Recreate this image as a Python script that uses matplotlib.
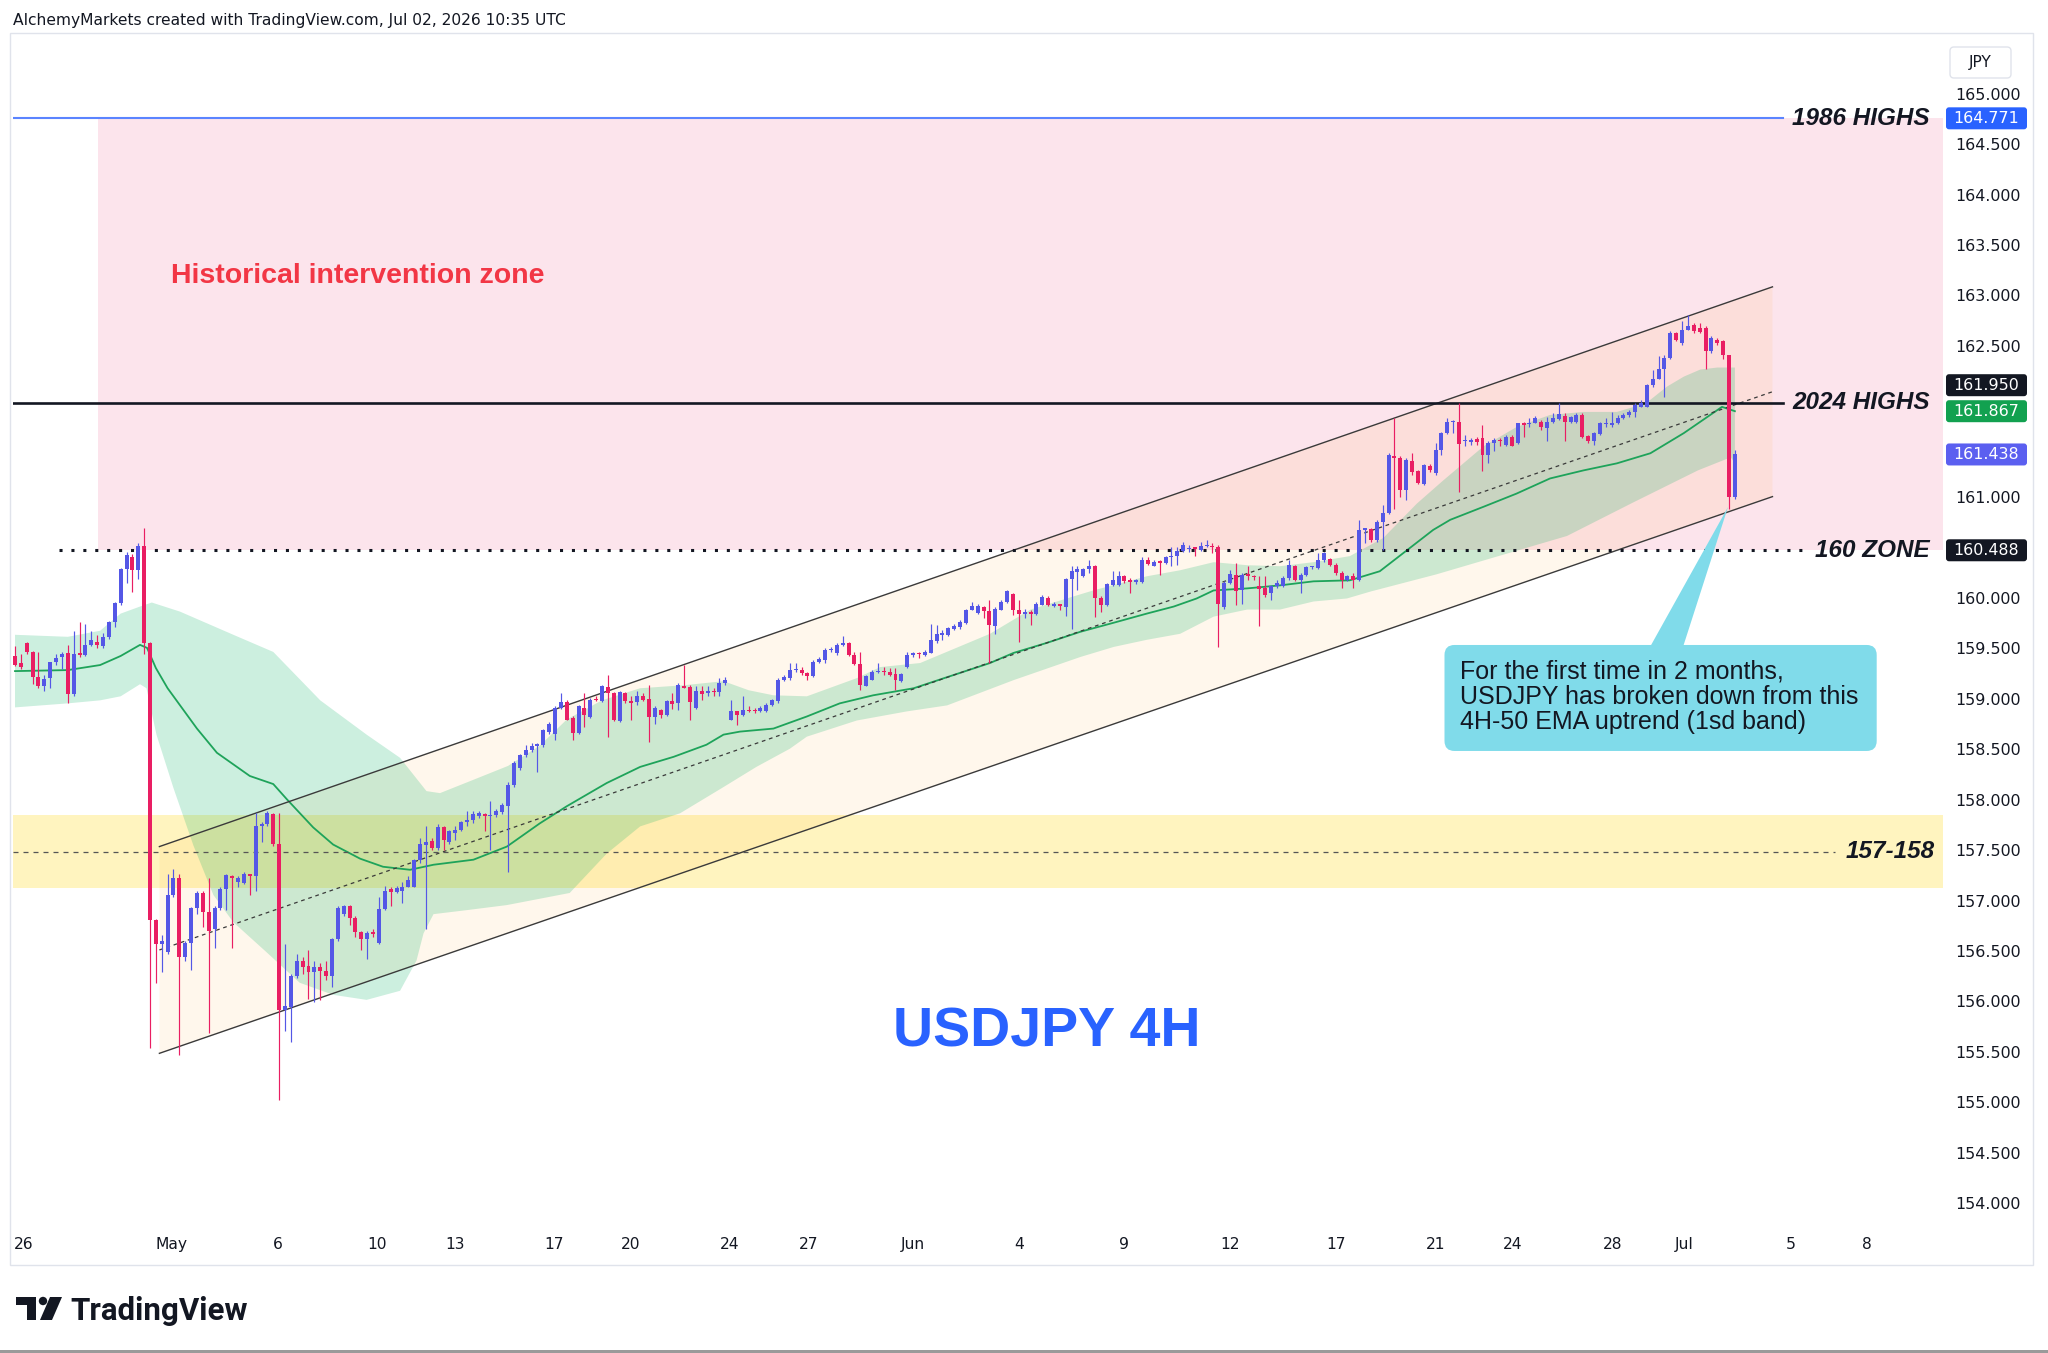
import matplotlib
matplotlib.use("Agg")
import matplotlib.pyplot as plt
import numpy as np
from matplotlib.patches import Rectangle, FancyBboxPatch, Polygon, Circle
from matplotlib.transforms import IdentityTransform

# ------------------------------------------------------------------ data
opens = [
    159.44, 159.37, 159.57, 159.48, 159.23, 159.14, 159.22, 159.38, 159.43, 159.47,
    159.06, 159.47, 159.45, 159.55, 159.58, 159.54, 159.63, 159.78, 159.97, 160.30,
    160.42, 160.29, 160.53, 159.57, 156.82, 156.58, 156.50, 157.07, 157.24, 156.46,
    156.59, 156.94, 157.09, 156.90, 156.73, 156.94, 157.13, 157.26, 157.20, 157.19,
    157.28, 157.26, 157.75, 157.77, 157.87, 157.58, 155.93, 155.96, 156.27, 156.42,
    156.37, 156.31, 156.36, 156.32, 156.27, 156.63, 156.88, 156.96, 156.84, 156.70,
    156.63, 156.70, 156.59, 156.93, 157.13, 157.10, 157.11, 157.15, 157.15, 157.42,
    157.57, 157.61, 157.54, 157.74, 157.60, 157.68, 157.71, 157.79, 157.81, 157.85,
    157.87, 157.85, 157.86, 157.89, 157.95, 158.16, 158.33, 158.46, 158.51, 158.55,
    158.56, 158.69, 158.67, 158.92, 158.98, 158.82, 158.68, 158.92, 158.83, 159.01,
    158.99, 159.13, 159.07, 158.80, 159.07, 158.99, 158.98, 159.04, 159.01, 158.83,
    158.90, 158.85, 158.99, 158.97, 159.14, 159.13, 158.92, 159.09, 159.07, 159.09,
    159.08, 159.17, 158.81, 158.89, 158.85, 158.90, 158.90, 158.89, 158.89, 158.95,
    158.99, 159.20, 159.22, 159.30, 159.30, 159.27, 159.24, 159.38, 159.40, 159.50,
    159.47, 159.55, 159.57, 159.45, 159.36, 159.14, 159.20, 159.28, 159.29, 159.28,
    159.26, 159.19, 159.33, 159.45, 159.47, 159.45, 159.47, 159.59, 159.65, 159.65,
    159.71, 159.73, 159.77, 159.90, 159.87, 159.93, 159.89, 159.74, 159.90, 159.98,
    160.05, 159.90, 159.86, 159.87, 159.86, 159.95, 160.01, 159.94, 159.96, 159.93,
    160.20, 160.27, 160.23, 160.30, 160.33, 160.01, 159.95, 160.14, 160.14, 160.23,
    160.19, 160.17, 160.17, 160.39, 160.33, 160.38, 160.36, 160.42, 160.43, 160.48,
    160.50, 160.52, 160.49, 160.53, 160.53, 160.52, 159.93, 160.16, 160.24, 160.09,
    160.25, 160.23, 160.13, 160.11, 160.06, 160.13, 160.13, 160.21, 160.33, 160.19,
    160.24, 160.32, 160.31, 160.39, 160.40, 160.34, 160.26, 160.19, 160.23, 160.19,
    160.69, 160.70, 160.59, 160.77, 160.86, 161.42, 161.40, 161.09, 161.37, 161.27,
    161.15, 161.32, 161.25, 161.48, 161.65, 161.76, 161.76, 161.57, 161.56, 161.59,
    161.60, 161.43, 161.55, 161.58, 161.53, 161.61, 161.55, 161.75, 161.74, 161.75,
    161.76, 161.70, 161.76, 161.79, 161.82, 161.76, 161.76, 161.83, 161.62, 161.57,
    161.64, 161.74, 161.73, 161.75, 161.80, 161.83, 161.86, 161.91, 161.91, 162.13,
    162.19, 162.29, 162.39, 162.64, 162.54, 162.67, 162.72, 162.69, 162.69, 162.46,
    162.57, 162.56, 162.42, 161.02,
]
highs = [
    159.54, 159.46, 159.58, 159.49, 159.48, 159.25, 159.38, 159.46, 159.48, 159.55,
    159.69, 159.78, 159.76, 159.69, 159.65, 159.67, 159.79, 159.98, 160.31, 160.47,
    160.45, 160.56, 160.71, 159.58, 156.83, 156.67, 157.28, 157.33, 157.28, 156.61,
    156.95, 157.11, 157.11, 157.24, 156.96, 157.15, 157.28, 157.27, 157.26, 157.30,
    157.28, 157.88, 157.79, 157.90, 157.88, 157.88, 156.58, 156.29, 156.48, 156.46,
    156.52, 156.42, 156.40, 156.42, 156.64, 156.96, 156.97, 156.97, 156.86, 156.71,
    156.71, 156.73, 157.05, 157.16, 157.15, 157.16, 157.20, 157.26, 157.43, 157.64,
    157.75, 157.64, 157.77, 157.75, 157.71, 157.75, 157.80, 157.90, 157.90, 157.90,
    157.88, 158.00, 157.92, 157.98, 158.19, 158.40, 158.47, 158.56, 158.58, 158.58,
    158.72, 158.79, 158.94, 159.07, 159.00, 158.84, 158.95, 159.07, 159.02, 159.04,
    159.15, 159.25, 159.08, 159.09, 159.08, 159.04, 159.09, 159.07, 159.15, 158.94,
    158.91, 159.00, 159.07, 159.17, 159.35, 159.15, 159.14, 159.14, 159.14, 159.12,
    159.22, 159.23, 159.00, 158.89, 159.04, 158.94, 158.92, 158.94, 158.97, 159.01,
    159.22, 159.25, 159.37, 159.37, 159.33, 159.28, 159.40, 159.43, 159.52, 159.53,
    159.57, 159.64, 159.58, 159.48, 159.48, 159.25, 159.30, 159.37, 159.33, 159.32,
    159.32, 159.27, 159.48, 159.48, 159.48, 159.50, 159.76, 159.75, 159.70, 159.73,
    159.76, 159.80, 159.91, 159.98, 159.96, 159.94, 159.99, 159.93, 159.99, 160.09,
    160.06, 159.99, 159.91, 159.90, 159.98, 160.04, 160.03, 159.98, 159.96, 160.21,
    160.33, 160.33, 160.31, 160.39, 160.34, 160.03, 160.16, 160.28, 160.28, 160.24,
    160.21, 160.20, 160.42, 160.42, 160.39, 160.39, 160.43, 160.52, 160.52, 160.57,
    160.54, 160.52, 160.57, 160.59, 160.56, 160.54, 160.18, 160.29, 160.36, 160.26,
    160.33, 160.24, 160.23, 160.23, 160.14, 160.19, 160.23, 160.39, 160.34, 160.26,
    160.33, 160.33, 160.46, 160.47, 160.41, 160.36, 160.28, 160.24, 160.26, 160.79,
    160.71, 160.71, 160.79, 160.94, 161.45, 161.80, 161.42, 161.40, 161.45, 161.28,
    161.34, 161.34, 161.55, 161.66, 161.80, 161.78, 161.95, 161.63, 161.60, 161.61,
    161.73, 161.57, 161.60, 161.60, 161.63, 161.63, 161.75, 161.76, 161.80, 161.82,
    161.78, 161.81, 161.85, 161.95, 161.85, 161.82, 161.85, 161.85, 161.63, 161.66,
    161.76, 161.80, 161.86, 161.83, 161.85, 161.88, 161.95, 161.98, 162.14, 162.28,
    162.41, 162.42, 162.66, 162.65, 162.76, 162.82, 162.74, 162.74, 162.71, 162.61,
    162.59, 162.57, 162.42, 161.48,
]
lows = [
    159.34, 159.31, 159.46, 159.16, 159.12, 159.09, 159.12, 159.35, 159.31, 158.97,
    159.04, 159.43, 159.44, 159.54, 159.52, 159.52, 159.61, 159.73, 159.95, 160.16,
    160.07, 160.20, 159.46, 155.55, 156.20, 156.31, 156.48, 157.05, 155.48, 156.42,
    156.33, 156.88, 156.75, 155.70, 156.54, 156.92, 156.92, 156.54, 157.15, 157.18,
    157.07, 157.11, 157.60, 157.75, 157.56, 155.04, 155.72, 155.61, 156.25, 156.29,
    156.04, 156.01, 156.03, 156.23, 156.16, 156.61, 156.86, 156.77, 156.65, 156.52,
    156.44, 156.65, 156.58, 156.92, 156.96, 157.09, 156.99, 157.15, 157.15, 157.39,
    156.73, 157.52, 157.52, 157.52, 157.58, 157.62, 157.70, 157.75, 157.78, 157.83,
    157.70, 157.52, 157.84, 157.87, 157.30, 158.14, 158.31, 158.44, 158.49, 158.29,
    158.54, 158.67, 158.61, 158.91, 158.81, 158.61, 158.67, 158.74, 158.82, 158.99,
    158.98, 158.64, 158.80, 158.79, 158.97, 158.81, 158.95, 158.99, 158.59, 158.77,
    158.82, 158.84, 158.91, 158.90, 159.12, 158.81, 158.91, 159.00, 159.04, 159.04,
    159.04, 159.15, 158.81, 158.76, 158.84, 158.88, 158.87, 158.88, 158.88, 158.94,
    158.97, 159.19, 159.20, 159.28, 159.25, 159.20, 159.23, 159.37, 159.37, 159.48,
    159.45, 159.54, 159.44, 159.35, 159.10, 159.14, 159.20, 159.27, 159.25, 159.24,
    159.10, 159.18, 159.32, 159.43, 159.42, 159.44, 159.47, 159.57, 159.60, 159.64,
    159.70, 159.71, 159.76, 159.90, 159.86, 159.82, 159.37, 159.66, 159.90, 159.97,
    159.85, 159.58, 159.82, 159.75, 159.85, 159.95, 159.94, 159.93, 159.90, 159.84,
    159.71, 160.09, 160.22, 160.26, 159.83, 159.88, 159.94, 160.13, 160.13, 160.16,
    160.06, 160.15, 160.16, 160.34, 160.33, 160.24, 160.35, 160.33, 160.34, 160.47,
    160.47, 160.43, 160.48, 160.52, 160.46, 159.53, 159.91, 160.15, 159.95, 159.96,
    160.19, 160.19, 159.74, 160.02, 159.99, 160.11, 160.12, 160.19, 160.18, 160.06,
    160.23, 160.30, 160.30, 160.37, 160.33, 160.24, 160.11, 160.18, 160.11, 160.18,
    160.56, 160.57, 160.57, 160.49, 160.85, 160.90, 161.02, 160.99, 161.23, 161.15,
    161.14, 161.26, 161.23, 161.43, 161.64, 161.65, 161.07, 161.52, 161.53, 161.53,
    161.27, 161.35, 161.47, 161.52, 161.52, 161.52, 161.54, 161.61, 161.71, 161.75,
    161.68, 161.57, 161.75, 161.78, 161.57, 161.75, 161.75, 161.60, 161.55, 161.53,
    161.63, 161.71, 161.71, 161.74, 161.79, 161.81, 161.81, 161.91, 161.91, 162.11,
    162.19, 162.01, 162.38, 162.56, 162.52, 162.67, 162.64, 162.64, 162.29, 162.44,
    162.52, 162.38, 160.90, 161.00,
]
closes = [
    159.35, 159.33, 159.48, 159.23, 159.14, 159.21, 159.38, 159.42, 159.46, 159.06,
    159.46, 159.45, 159.55, 159.60, 159.55, 159.63, 159.78, 159.97, 160.30, 160.44,
    160.29, 160.53, 159.57, 156.82, 156.58, 156.61, 157.07, 157.24, 156.46, 156.59,
    156.94, 157.09, 156.90, 156.71, 156.94, 157.13, 157.27, 157.24, 157.24, 157.28,
    157.26, 157.75, 157.77, 157.88, 157.58, 155.93, 155.97, 156.27, 156.42, 156.36,
    156.31, 156.36, 156.32, 156.27, 156.63, 156.94, 156.96, 156.84, 156.70, 156.63,
    156.69, 156.68, 156.93, 157.11, 157.10, 157.14, 157.15, 157.22, 157.42, 157.58,
    157.60, 157.54, 157.74, 157.62, 157.70, 157.71, 157.79, 157.81, 157.87, 157.88,
    157.85, 157.86, 157.90, 157.96, 158.16, 158.38, 158.46, 158.51, 158.55, 158.57,
    158.71, 158.77, 158.92, 158.98, 158.81, 158.68, 158.94, 158.85, 159.00, 159.00,
    159.14, 159.07, 158.81, 159.08, 158.99, 158.97, 159.04, 159.00, 158.83, 158.92,
    158.85, 158.99, 158.96, 159.15, 159.12, 158.98, 159.09, 159.06, 159.09, 159.08,
    159.17, 159.20, 158.89, 158.85, 158.90, 158.89, 158.89, 158.92, 158.95, 159.00,
    159.20, 159.23, 159.30, 159.31, 159.27, 159.24, 159.38, 159.41, 159.50, 159.51,
    159.55, 159.57, 159.45, 159.36, 159.15, 159.24, 159.28, 159.29, 159.28, 159.25,
    159.20, 159.26, 159.45, 159.47, 159.46, 159.48, 159.60, 159.66, 159.66, 159.72,
    159.74, 159.78, 159.90, 159.94, 159.94, 159.89, 159.75, 159.91, 159.98, 160.08,
    159.90, 159.86, 159.87, 159.86, 159.96, 160.02, 159.95, 159.96, 159.94, 160.20,
    160.28, 160.30, 160.30, 160.33, 160.01, 159.95, 160.15, 160.19, 160.23, 160.18,
    160.17, 160.19, 160.39, 160.35, 160.37, 160.36, 160.42, 160.43, 160.48, 160.54,
    160.51, 160.50, 160.53, 160.54, 160.52, 159.96, 160.16, 160.25, 160.08, 160.24,
    160.23, 160.22, 160.10, 160.04, 160.13, 160.16, 160.21, 160.34, 160.19, 160.24,
    160.32, 160.33, 160.39, 160.46, 160.34, 160.26, 160.19, 160.23, 160.19, 160.69,
    160.70, 160.59, 160.77, 160.86, 161.43, 161.40, 161.09, 161.38, 161.26, 161.16,
    161.33, 161.28, 161.48, 161.65, 161.76, 161.77, 161.54, 161.58, 161.58, 161.56,
    161.43, 161.55, 161.58, 161.57, 161.61, 161.52, 161.75, 161.73, 161.75, 161.80,
    161.71, 161.76, 161.80, 161.84, 161.76, 161.81, 161.83, 161.61, 161.57, 161.65,
    161.75, 161.75, 161.75, 161.80, 161.83, 161.86, 161.93, 161.95, 162.13, 162.19,
    162.29, 162.39, 162.64, 162.57, 162.67, 162.71, 162.66, 162.65, 162.46, 162.59,
    162.54, 162.42, 161.02, 161.438,
]

# 50 EMA (bar index, price)
ema_idx = [0, 9, 14.5, 18, 21.3, 22.5, 24, 26, 29, 31, 34.4, 40, 44, 46.3, 50.8, 54.2,
           58.8, 62.7, 67.3, 71.3, 78.1, 83.8, 89.4, 94.0, 100.8, 106.5, 112.2, 117.8,
           120.7, 123.5, 129.2, 134.9, 140.5, 146.2, 153.1, 158.8, 166.1, 170.1, 175.8,
           181.5, 187.2, 192.8, 197.4, 201.3, 204.2, 209.9, 215.5, 221.2, 227.4, 232.5,
           236.5, 241.6, 244.5, 250.2, 255.8, 261.5, 267.2, 272.9, 278.6, 284.3, 288.8,
           290.8, 293]
ema_val = [159.29, 159.30, 159.35, 159.44, 159.55, 159.52, 159.32, 159.12, 158.88, 158.72,
           158.48, 158.25, 158.17, 158.02, 157.74, 157.57, 157.43, 157.35, 157.32, 157.37,
           157.42, 157.55, 157.78, 157.95, 158.18, 158.34, 158.44, 158.56, 158.66, 158.69,
           158.72, 158.84, 158.97, 159.05, 159.12, 159.23, 159.37, 159.47, 159.57, 159.68,
           159.77, 159.86, 159.93, 160.01, 160.09, 160.11, 160.14, 160.18, 160.19, 160.28,
           160.46, 160.69, 160.79, 160.92, 161.05, 161.20, 161.28, 161.35, 161.45, 161.65,
           161.83, 161.91, 161.867]

# 1 sd band edges
band_up_idx = [0, 9, 14.5, 18, 21.3, 23.3, 28.1, 37.2, 44, 52, 59.9, 65.6, 70.1, 72.4, 78,
               84, 89.4, 94, 100, 106.5, 114, 120.7, 125, 129.2, 134.9, 143.4, 147.4, 154.2,
               166.1, 173, 180.3, 183.7, 192.8, 198.5, 204.2, 209.9, 215.5, 221.2, 227.4,
               233.1, 238.8, 243.3, 250.2, 255.8, 261.5, 267.2, 272.9, 275.8, 278.6, 281.4,
               284.3, 287.1, 290, 293]
band_up_val = [159.65, 159.63, 159.69, 159.86, 159.93, 159.97, 159.88, 159.65, 159.48, 159.00,
               158.66, 158.43, 158.10, 158.08, 158.21, 158.35, 158.55, 158.81, 159.00, 159.12,
               159.15, 159.19, 159.10, 159.05, 159.04, 159.22, 159.33, 159.37, 159.66, 159.90,
               160.03, 160.09, 160.23, 160.29, 160.37, 160.34, 160.33, 160.37, 160.43, 160.61,
               160.95, 161.18, 161.52, 161.71, 161.83, 161.86, 161.86, 161.91, 161.98, 162.11,
               162.21, 162.28, 162.30, 162.30]
band_lo_idx = [0, 9, 14.5, 18, 21.3, 22.4, 24.1, 27, 30.4, 33.8, 37.2, 42.9, 48.5, 54.2, 59.9,
               65.6, 68.4, 69.6, 71.3, 77, 83.8, 94.5, 100.8, 106.5, 113.3, 120.7, 126.3, 132,
               134.9, 143.4, 151.9, 158.8, 170.1, 181.5, 187.2, 192.8, 198.5, 204.2, 209.9,
               215.5, 221.2, 226.9, 231, 242.2, 253.3, 264.4, 275.6, 286.7, 292.3, 293]
band_lo_val = [158.93, 158.97, 159.00, 159.04, 159.16, 159.12, 158.66, 158.13, 157.56, 157.07,
               156.80, 156.50, 156.20, 156.08, 156.03, 156.12, 156.42, 156.69, 156.88, 156.92,
               156.97, 157.09, 157.48, 157.75, 157.88, 158.14, 158.34, 158.52, 158.64, 158.80,
               158.89, 158.95, 159.20, 159.43, 159.53, 159.60, 159.66, 159.83, 159.90, 159.90,
               159.98, 160.01, 160.08, 160.25, 160.44, 160.63, 160.96, 161.28, 161.41, 161.35]

# channel anchors (bar index, price)
channel_x = [24.6, 299.4]
channel_upper = [157.55, 163.10]
channel_lower = [155.50, 161.02]

level_1986 = 164.771
level_2024 = 161.950
level_160 = 160.488
zone_lo, zone_hi, zone_mid = 157.137, 157.863, 157.5
ema_last = 161.867
last_price = 161.438

price_ticks = [165.0, 164.5, 164.0, 163.5, 163.0, 162.5, 161.0, 160.0, 159.5, 159.0,
               158.5, 158.0, 157.5, 157.0, 156.5, 156.0, 155.5, 155.0, 154.5, 154.0]
time_tick_pos = [1.45, 26.6, 44.8, 61.7, 74.9, 91.8, 104.9, 121.8, 135.2, 153.0,
                 171.0, 189.0, 207.0, 225.0, 242.0, 255.1, 272.2, 284.4, 302.5, 315.4]
time_tick_labels = ['26', 'May', '6', '10', '13', '17', '20', '24', '27', 'Jun',
                    '4', '9', '12', '17', '21', '24', '28', 'Jul', '5', '8']

note_lines = ["For the first time in 2 months,",
              "USDJPY has broken down from this",
              "4H-50 EMA uptrend (1sd band)"]

# ------------------------------------------------------------------ style
W, H, DPI = 2048, 1353, 100
TXT = '#131722'
UP = '#5457e6'
DN = '#e91e63'
LIB = ['Liberation Sans', 'DejaVu Sans']
plt.rcParams['font.family'] = ['DejaVu Sans']

fig = plt.figure(figsize=(W / DPI, H / DPI), dpi=DPI)
fig.patch.set_facecolor('white')
ident = IdentityTransform()

PANE_L, PANE_R, PANE_T, PANE_B = 13, 1943, 33, 1227.6
ax = fig.add_axes([PANE_L / W, 1 - PANE_B / H, (PANE_R - PANE_L) / W, (PANE_B - PANE_T) / H])
XL, XR = -0.34, 328.45
ax.set_xlim(XL, XR)
ax.set_ylim(153.772, 165.617)
for s in ax.spines.values():
    s.set_visible(False)
ax.set_yticks([])
ax.set_xticks(time_tick_pos)
ax.set_xticklabels(time_tick_labels, fontsize=11.2, color=TXT)
ax.tick_params(axis='x', length=0, pad=6.5)


def xi(px):
    """figure pixel x -> bar index via the axis transform"""
    return ax.transData.inverted().transform((px, 0))[0]


def yp(price):
    """price -> display pixel y (bottom origin)"""
    return ax.transData.transform((0, price))[1]


# zones
ax.add_patch(Rectangle((xi(98), level_160), XR - xi(98), level_1986 - level_160,
                       fc='#fce4ec', ec='none', zorder=1))
ax.add_patch(Rectangle((XL, zone_lo), XR - XL, zone_hi - zone_lo,
                       fc='#fff4bf', ec='none', zorder=1.1))

# channel fill
ax.add_patch(Polygon([(channel_x[0], channel_upper[0]), (channel_x[1], channel_upper[1]),
                      (channel_x[1], channel_lower[1]), (channel_x[0], channel_lower[0])],
                     closed=True, fc=(1.0, 0.6, 0.0, 0.075), ec='none', zorder=1.5))

# EMA band
band_pts = list(zip(band_up_idx, band_up_val)) + list(zip(band_lo_idx[::-1], band_lo_val[::-1]))
ax.add_patch(Polygon(band_pts, closed=True, fc=(0.0, 0.69, 0.38, 0.2), ec='none', zorder=2))
ax.plot(ema_idx, ema_val, color='#1ea35a', lw=1.3, zorder=3)

# channel lines
channel_mid = [(u + l) / 2 for u, l in zip(channel_upper, channel_lower)]
ax.plot(channel_x, channel_upper, color='#3a3a3a', lw=1.0, zorder=3.5)
ax.plot(channel_x, channel_lower, color='#3a3a3a', lw=1.0, zorder=3.5)
ax.plot(channel_x, channel_mid, color='#3a3a3a', lw=0.9, ls=(0, (3, 3)), zorder=3.5)

# horizontal levels
end_line = xi(1783)
ax.plot([XL, end_line], [level_1986] * 2, color='#5b84ff', lw=1.5, zorder=4)
ax.plot([XL, end_line], [level_2024] * 2, color=TXT, lw=1.9, zorder=4)
ax.plot([xi(58.8), xi(1802)], [level_160] * 2, color=TXT, lw=2.2,
        ls=(0, (1, 2.9)), zorder=4)
ax.plot([XL, xi(1835)], [zone_mid] * 2, color='#555555', lw=0.9, ls=(0, (4, 4)), zorder=4)

# candles
o = np.array(opens); c = np.array(closes); hi = np.array(highs); lo = np.array(lows)
x = np.arange(len(c))
cols = np.where(c >= o, UP, DN)
ax.vlines(x, lo, hi, colors=cols, lw=0.85, zorder=5)
ax.bar(x, np.maximum(np.abs(c - o), 0.014), bottom=np.minimum(o, c), width=0.68,
       color=cols, lw=0, zorder=5.1)

# level labels
lab_kw = dict(ha='right', va='center', fontsize=17.5, fontweight='bold',
              fontstyle='italic', family=LIB, color=TXT, zorder=7)
ax.text(xi(1930), level_1986, '1986 HIGHS', **lab_kw)
ax.text(xi(1930), level_2024, '2024 HIGHS', **lab_kw)
ax.text(xi(1930), level_160, '160 ZONE', **lab_kw)
ax.text(xi(1935), zone_mid, '157-158', **lab_kw)

ax.text(xi(171), 163.21, 'Historical intervention zone', ha='left', va='center',
        fontsize=20.5, fontweight='bold', family=LIB, color='#f23645', zorder=7)
ax.text(xi(1047), 155.71, 'USDJPY 4H', ha='center', va='center', fontsize=40,
        fontweight='bold', family=LIB, color='#2962ff', zorder=7)

# callout
bx0, bx1 = xi(1444.5), xi(1876.7)
by0, by1 = 158.498, 159.549
px_per_x = ax.transData.transform((1, 0))[0] - ax.transData.transform((0, 0))[0]
px_per_y = yp(1) - yp(0)
ax.add_patch(FancyBboxPatch((bx0, by0), bx1 - bx0, by1 - by0,
                            boxstyle='round,pad=0,rounding_size=1.7',
                            mutation_aspect=px_per_x / px_per_y,
                            fc='#80dbea', ec='none', zorder=8))
ax.add_patch(Polygon([(xi(1650), by1 - 0.02), (xi(1683), by1 - 0.02), (xi(1728), 160.917)],
                     closed=True, fc='#80dbea', ec='none', zorder=8))
ax.text(xi(1460), (by0 + by1) / 2 + 0.01, "\n".join(note_lines), ha='left', va='center',
        fontsize=18, family=LIB, color=TXT, linespacing=1.08, zorder=9)

# ------------------------------------------------------------------ price axis
AXC = 1988
for p in price_ticks:
    fig.text(AXC, yp(p), f"{p:.3f}", transform=ident, ha='center', va='center',
             fontsize=11.4, color=TXT)

boxes = [(level_1986, '#2962ff'), (last_price, '#5b5ff0'), (level_160, '#131722'),
         (ema_last, '#12a150'), (level_2024, '#131722')]
yc_ema = yp(ema_last)
for val, col in boxes:
    yc = yp(val)
    if val == level_2024:
        yc = max(yc, yc_ema + 26)
    fig.add_artist(FancyBboxPatch((1946, yc - 11), 81, 22, boxstyle='round,pad=0,rounding_size=3',
                                  fc=col, ec='none', transform=ident, zorder=10))
    fig.text(1986.5, yc, f"{val:.3f}", transform=ident, ha='center', va='center',
             fontsize=11.4, color='white', zorder=11)

# JPY box
fig.add_artist(FancyBboxPatch((1950, H - 78), 61, 31, boxstyle='round,pad=0,rounding_size=4',
                              fc='white', ec='#e0e3eb', lw=1, transform=ident))
fig.text(1980.5, H - 62.5, 'JPY', transform=ident, ha='center', va='center',
         fontsize=11.2, color=TXT)

# frame
fig.add_artist(Rectangle((10, H - 1265), 2023, 1232, fc='none', ec='#e0e3eb', lw=1,
                         transform=ident, zorder=0.5))

# header
fig.text(13, H - 21, 'AlchemyMarkets created with TradingView.com, Jul 02, 2026 10:35 UTC',
         transform=ident, ha='left', va='center', fontsize=11.2, color=TXT)

# TradingView logo
fig.add_artist(Rectangle((16, H - 1305), 20, 8, fc=TXT, ec='none', transform=ident))
fig.add_artist(Rectangle((27, H - 1320), 9, 23, fc=TXT, ec='none', transform=ident))
fig.add_artist(Circle((43, H - 1301), 4.2, fc=TXT, ec='none', transform=ident))
fig.add_artist(Polygon([(50, H - 1297), (62, H - 1297), (52, H - 1320), (40, H - 1320)],
                       closed=True, fc=TXT, ec='none', transform=ident))
fig.text(70, H - 1320, 'TradingView', transform=ident, ha='left', va='baseline',
         fontsize=22.5, fontweight='bold', family=['Roboto', 'DejaVu Sans'], color=TXT)

# bottom border
fig.add_artist(Rectangle((0, 0), W, 3, fc='#9a9a9a', ec='none', transform=ident))

fig.savefig('out.png', dpi=DPI, facecolor='white')
